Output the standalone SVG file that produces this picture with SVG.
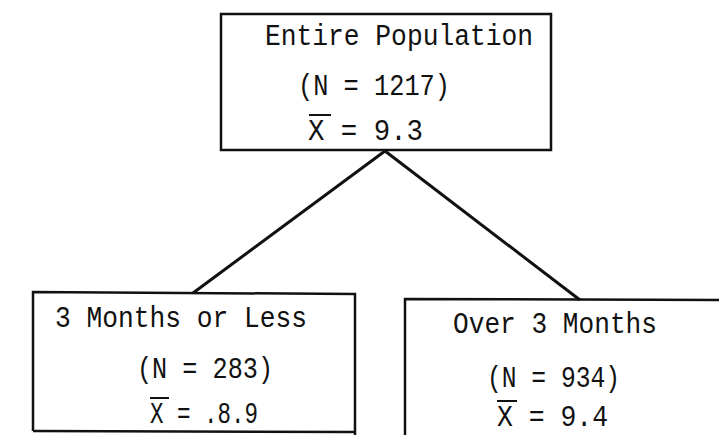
<svg xmlns="http://www.w3.org/2000/svg" width="719" height="435" viewBox="0 0 719 435">
<style>
.box{fill:none;stroke:#111;stroke-width:2.5}
.t{font-family:"Liberation Mono","DejaVu Sans Mono",monospace;font-size:29px;fill:#111}
.ov{stroke:#111;stroke-width:2}
.c{stroke:#111;stroke-width:3;fill:none}
</style>
<rect width="719" height="435" fill="#fff"/>
<g id="connectors">
<line class="c" x1="385" y1="151" x2="193" y2="293"/>
<line class="c" x1="385" y1="151" x2="580" y2="300"/>
</g>
<g id="root">
<rect class="box" x="221" y="14" width="330" height="136"/>
<text class="t" x="265" y="45" textLength="268" lengthAdjust="spacingAndGlyphs">Entire Population</text>
<text class="t" x="298" y="95" textLength="152" lengthAdjust="spacingAndGlyphs">(N = 1217)</text>
<text class="t" x="308" y="140" textLength="115" lengthAdjust="spacingAndGlyphs">X = 9.3</text>
<line class="ov" x1="309" y1="115" x2="331" y2="115"/>
</g>
<g id="left">
<polyline class="box" points="33,431 33,292 355,294 355,435"/>
<line class="box" x1="33" y1="431" x2="355" y2="432"/>
<text class="t" x="55" y="327" textLength="252" lengthAdjust="spacingAndGlyphs">3 Months or Less</text>
<text class="t" x="137" y="378" textLength="136" lengthAdjust="spacingAndGlyphs">(N = 283)</text>
<text class="t" x="150" y="423" textLength="108" lengthAdjust="spacingAndGlyphs">X = .8.9</text>
<line class="ov" x1="150" y1="398" x2="169" y2="398"/>
</g>
<g id="right">
<polyline class="box" points="405,435 405,299 719,300"/>
<text class="t" x="453" y="333" textLength="204" lengthAdjust="spacingAndGlyphs">Over 3 Months</text>
<text class="t" x="487" y="387" textLength="133" lengthAdjust="spacingAndGlyphs">(N = 934)</text>
<text class="t" x="497" y="426" textLength="111" lengthAdjust="spacingAndGlyphs">X = 9.4</text>
<line class="ov" x1="497" y1="401" x2="517" y2="401"/>
</g>
</svg>
